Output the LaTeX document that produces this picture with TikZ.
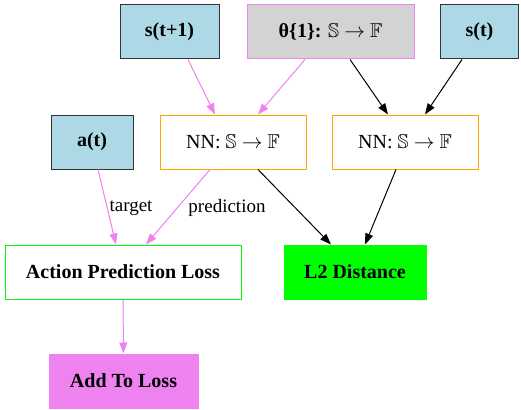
\documentclass[tikz,border=0pt]{standalone}
\usepackage{fontspec}
\usepackage{amssymb}
\setmainfont{Liberation Serif}
\usetikzlibrary{arrows.meta}
\definecolor{lblue}{HTML}{ADD8E6}
\definecolor{lgray}{HTML}{D3D3D3}
\definecolor{gvviolet}{HTML}{EE82EE}
\definecolor{gvorange}{HTML}{FFA500}
\definecolor{gvgreen}{HTML}{00FF00}
\tikzset{
  box/.style={draw, line width=1pt, minimum height=54pt, inner sep=0pt, font=\fontsize{20}{22}\selectfont\bfseries},
  inbox/.style={box, fill=lblue, draw=black!80},
  nnbox/.style={box, draw=gvorange, font=\fontsize{20}{22}\selectfont},
  edge/.style={line width=1pt, -{Triangle[length=11pt,width=8pt]}},
  vedge/.style={edge, draw=gvviolet, fill=gvviolet},
  bedge/.style={edge, draw=black},
  lab/.style={font=\fontsize{19}{21}\selectfont}
}
\begin{document}
\begin{tikzpicture}[x=1pt,y=-1pt]
\useasboundingbox (0,0) rectangle (521,409);
\node[inbox, minimum width=99pt] (s1) at (169.5,32) {s(t+1)};
\node[box, fill=lgray, draw=gvviolet, minimum width=167pt] (th) at (330.5,32) {θ\{1\}: $\mathbb{S}$ $\rightarrow$ $\mathbb{F}$};
\node[inbox, minimum width=78pt] (s0) at (479.5,32) {s(t)};
\node[inbox, minimum width=82pt] (a) at (92,142) {a(t)};
\node[nnbox, minimum width=146pt] (nn1) at (233,142) {NN: $\mathbb{S}$ $\rightarrow$ $\mathbb{F}$};
\node[nnbox, minimum width=146pt] (nn2) at (405,142) {NN: $\mathbb{S}$ $\rightarrow$ $\mathbb{F}$};
\node[box, draw=gvgreen, minimum width=236pt] (apl) at (123,272) {Action Prediction Loss};
\node[box, fill=gvgreen, draw=gvgreen, minimum width=142pt] (l2) at (355,272) {L2 Distance};
\node[box, fill=gvviolet, draw=gvviolet, minimum width=149pt] (add) at (123.5,381) {Add To Loss};
\draw[vedge] ([xshift=18.5pt]s1.south) -- ([xshift=-18pt]nn1.north);
\draw[vedge] ([xshift=-25.5pt]th.south) -- ([xshift=25pt]nn1.north);
\draw[bedge] ([xshift=19.5pt]th.south) -- ([xshift=-17pt]nn2.north);
\draw[bedge] ([xshift=-17.5pt]s0.south) -- ([xshift=20pt]nn2.north);
\draw[vedge] ([xshift=6pt]a.south) -- ([xshift=-7pt]apl.north);
\node[lab] (tl) at (131,208) {target};
\draw[vedge] ([xshift=-23pt]nn1.south) -- ([xshift=23pt]apl.north);
\node[lab] (pl) at (227,208) {prediction};
\draw[bedge] ([xshift=25pt]nn1.south) -- ([xshift=-24pt]l2.north);
\draw[bedge] ([xshift=-9pt]nn2.south) -- ([xshift=10pt]l2.north);
\draw[vedge] (apl) -- (add);
\end{tikzpicture}
\end{document}
